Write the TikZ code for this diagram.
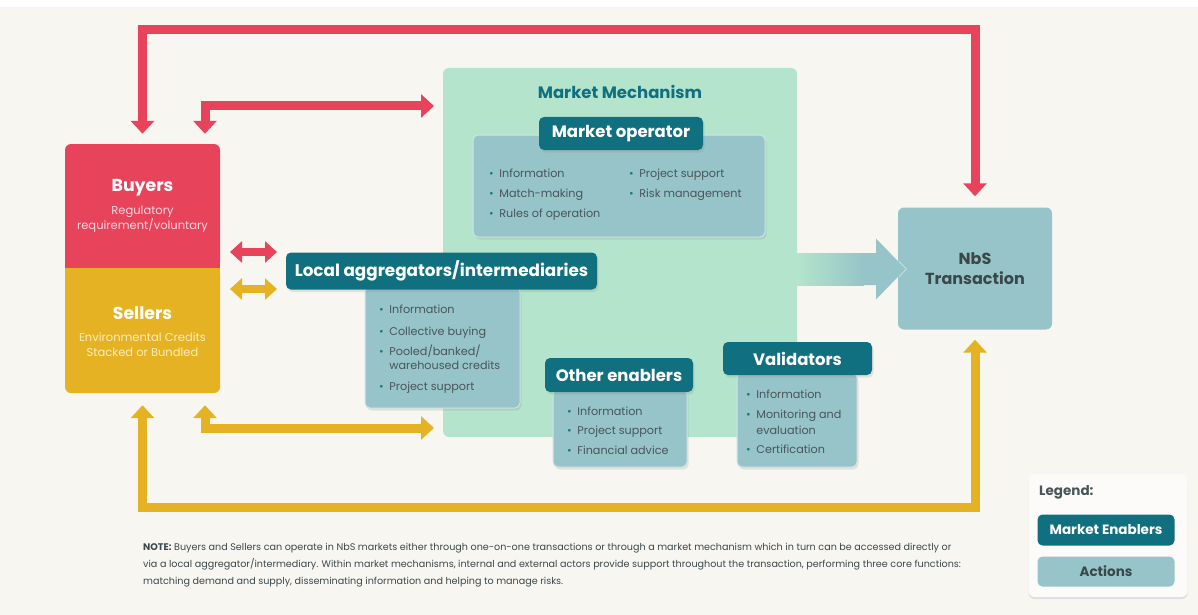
\documentclass[tikz,border=0pt]{standalone}
\usepackage{fontspec}
\setmainfont{Poppins}
\usetikzlibrary{arrows.meta,shadows}
\definecolor{bg}{RGB}{248,246,241}
\definecolor{cred}{RGB}{231,68,92}
\definecolor{cyel}{RGB}{229,178,35}
\definecolor{mint}{RGB}{180,228,204}
\definecolor{hdr}{RGB}{16,112,128}
\definecolor{act}{RGB}{150,196,200}
\definecolor{txt}{RGB}{72,86,90}
\definecolor{dtxt}{RGB}{58,72,76}
\definecolor{bul}{RGB}{30,122,136}
\definecolor{pinktxt}{RGB}{255,215,222}
\definecolor{yeltxt}{RGB}{255,236,185}
\newcommand{\bu}{\textcolor{bul}{\textbullet}\enspace}
\newcommand{\hang}{\phantom{\textbullet\enspace}}
\tikzset{
  shd/.style={drop shadow={opacity=0.18,shadow xshift=1.5pt,shadow yshift=-2.5pt}},
  hdrbox/.style={shd,fill=hdr,rounded corners=5pt,text=white,inner sep=0pt,
    font=\bfseries\fontsize{16.5}{19}\selectfont},
  actbox/.style={shd,fill=act,draw=white!55!act,line width=1pt,rounded corners=5pt,inner sep=0pt},
  items/.style={text=txt,align=left,anchor=north west,inner sep=0pt,
    font=\fontsize{11.2}{20}\selectfont},
  bigarr/.style={line width=9pt,line join=miter,
    {Triangle[width=23pt,length=13pt]}-{Triangle[width=23pt,length=13pt]}},
  smallarr/.style={line width=8pt,
    {Triangle[width=21pt,length=12pt]}-{Triangle[width=21pt,length=12pt]}},
  lbl/.style={inner sep=0pt},
}
\begin{document}
\begin{tikzpicture}[x=1pt,y=-1pt]
\useasboundingbox (0,0) rectangle (1198,615);
\fill[bg] (0,0) rectangle (1198,615);
\fill[white] (0,0) rectangle (1198,7);

% Market mechanism area
\node[fill=mint,rounded corners=6pt,minimum width=354pt,minimum height=369pt,inner sep=0pt] (mm) at (620,252.5) {};
\node[text=hdr,font=\bfseries\fontsize{16.5}{19}\selectfont] (mmtitle) at (620,92) {Market Mechanism};

% Buyers / Sellers
\node[fill=cred,rounded corners=6pt,minimum width=155pt,minimum height=124pt,inner sep=0pt] (buyers) at (142.5,206) {};
\node[fill=cyel,rounded corners=6pt,minimum width=155pt,minimum height=125pt,inner sep=0pt] (sellers) at (142.5,330.5) {};
\fill[cred] (65,258) rectangle (220,268.2);
\fill[cyel] (65,268) rectangle (220,278);
\node[lbl,text=white,font=\bfseries\fontsize{17.3}{20}\selectfont] (buyerst) at (142.5,188) {Buyers};
\node[lbl,text=pinktxt,align=center,font=\fontsize{11.5}{15}\selectfont] (buyerss) at (142.5,219) {Regulatory\\requirement/voluntary};
\node[lbl,text=white,font=\bfseries\fontsize{17.3}{20}\selectfont] (sellerst) at (142.5,313) {Sellers};
\node[lbl,text=yeltxt,align=center,font=\fontsize{11.5}{15}\selectfont] (sellerss) at (142.5,345) {Environmental Credits\\Stacked or Bundled};

% NbS transaction
\node[fill=act,rounded corners=6pt,minimum width=154pt,minimum height=122pt,inner sep=0pt,
  text=dtxt,align=center,font=\bfseries\fontsize{16}{20}\selectfont] (nbs) at (975,268.5) {NbS\\Transaction};

% Big gradient arrow mm -> nbs
\shade[left color=mint,right color=act] (797,253) rectangle (864,285);
\begin{scope}
  \clip (898.5,200) rectangle (930,340);
  \draw[white!45!act,line width=1.4pt,line join=round] (876,238) -- (906,269) -- (876,300);
\end{scope}
\fill[act] (863,253) -- (876,253) -- (876,238.5) -- (905.5,269) -- (876,299.5) -- (876,285) -- (863,285) -- cycle;

% Market operator
\node[actbox,minimum width=292pt,minimum height=102pt] (opact) at (619,186) {};
\node[hdrbox,minimum width=164pt,minimum height=33pt] (ophdr) at (621,133.5) {Market operator};
\node[items] (opl) at (489,168.4) {\bu Information\\\bu Match-making\\\bu Rules of operation};
\node[items] (opr) at (629,168.4) {\bu Project support\\\bu Risk management};

% Local aggregators
\node[actbox,minimum width=155pt,minimum height=121pt] (laact) at (442.5,347.5) {};
\node[hdrbox,minimum width=311pt,minimum height=37pt,font=\bfseries\fontsize{16.8}{19}\selectfont] (lahdr) at (441.5,271) {Local aggregators/intermediaries};
\node[items,font=\fontsize{11.2}{14}\selectfont] (lait) at (379,304.4)
  {\bu Information\\[8pt]\bu Collective buying\\[6pt]\bu Pooled/banked/\\\hang warehoused credits\\[7pt]\bu Project support};

% Other enablers
\node[actbox,minimum width=134pt,minimum height=78pt] (oeact) at (620,428) {};
\node[hdrbox,minimum width=148pt,minimum height=34pt] (oehdr) at (619,375) {Other enablers};
\node[items,font=\fontsize{11.2}{19.5}\selectfont] (oeit) at (567,406.4)
  {\bu Information\\\bu Project support\\\bu Financial advice};

% Validators
\node[actbox,minimum width=120pt,minimum height=94pt] (vaact) at (797,420) {};
\node[hdrbox,minimum width=149pt,minimum height=33pt] (vahdr) at (797.5,358.5) {Validators};
\node[items,font=\fontsize{11.2}{16}\selectfont] (vait) at (746,389.4)
  {\bu Information\\[4pt]\bu Monitoring and\\\hang evaluation\\[3pt]\bu Certification};

% Red connectors
\coordinate (rtop) at (560,30);
\coordinate (rmid) at (434,106);
\draw[bigarr,cred] ([yshift=10pt]buyers.north) |- (rtop) -| ([yshift=11pt]nbs.north);
\draw[bigarr,cred] ([xshift=62.5pt,yshift=10pt]buyers.north) |- (rmid);

% Yellow connectors
\coordinate (ybot) at (560,507);
\coordinate (ymid) at (434,428);
\draw[bigarr,cyel] ([yshift=-12pt]sellers.south) |- (ybot) -| ([yshift=-10pt]nbs.south);
\draw[bigarr,cyel] ([xshift=62.5pt,yshift=-12pt]sellers.south) |- (ymid);

% small double arrows
\coordinate (ra1) at (230,252);
\coordinate (ra2) at (277,252);
\coordinate (ya1) at (230,289);
\coordinate (ya2) at (277,289);
\draw[smallarr,cred] (ra1) -- (ra2);
\draw[smallarr,cyel] (ya1) -- (ya2);

% Note
\node[anchor=north west,inner sep=0pt,align=left,text=dtxt,font=\fontsize{9.6}{17}\selectfont] (note) at (143,543)
  {\textbf{NOTE:} Buyers and Sellers can operate in NbS markets either through one-on-one transactions or through a market mechanism which in turn can be accessed directly or\\
   via a local aggregator/intermediary. Within market mechanisms, internal and external actors provide support throughout the transaction, performing three core functions:\\
   matching demand and supply, disseminating information and helping to manage risks.};

% Legend
\node[fill=white!60!bg,rounded corners=6pt,minimum width=159pt,minimum height=123pt,inner sep=0pt,
  drop shadow={opacity=0.2,shadow xshift=0pt,shadow yshift=-2pt}] (legend) at (1108,535.5) {};
\node[anchor=west,inner sep=0pt,text=txt,font=\bfseries\fontsize{13.5}{16}\selectfont] (legtitle) at (1039,492) {Legend:};
\node[fill=hdr,rounded corners=5pt,minimum width=137pt,minimum height=31pt,inner sep=0pt,text=white,
  font=\bfseries\fontsize{13.5}{16}\selectfont] (legme) at (1106,530) {Market Enablers};
\node[fill=act,rounded corners=5pt,minimum width=137pt,minimum height=30pt,inner sep=0pt,text=dtxt,
  font=\bfseries\fontsize{13.5}{16}\selectfont] (legac) at (1106,571.5) {Actions};
\end{tikzpicture}
\end{document}
